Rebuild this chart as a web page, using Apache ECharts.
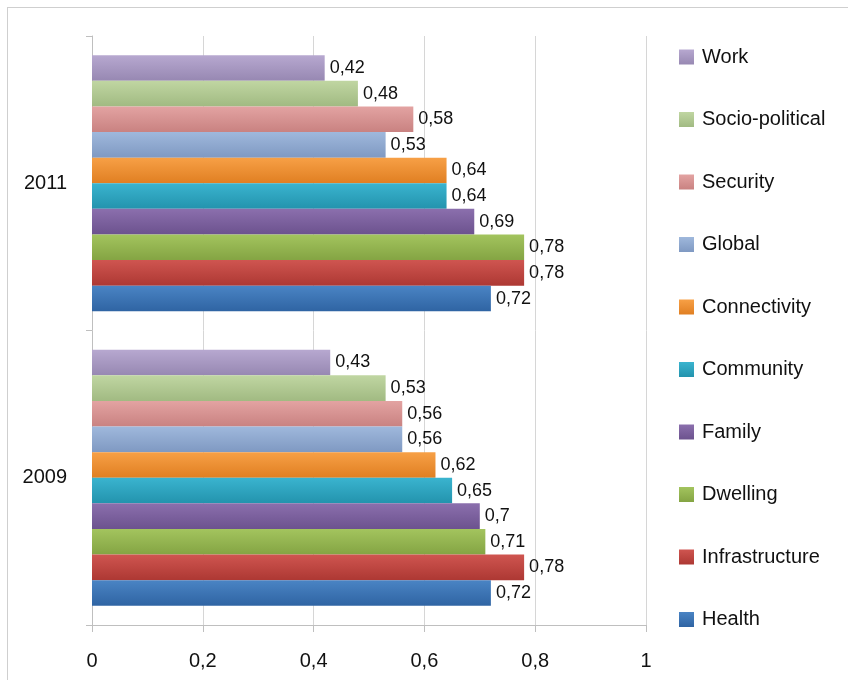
<!DOCTYPE html>
<html>
<head>
<meta charset="utf-8">
<script src="https://cdn.jsdelivr.net/npm/echarts@6/dist/echarts.min.js"></script>
<style>
  html, body { margin: 0; padding: 0; background: #fff; overflow: hidden; }
  #frame { position: absolute; left: 7px; top: 7px; width: 900px; height: 720px; border: 1px solid #cfcfcf; }
  #chart { position: absolute; left: 0; top: 0; width: 848px; height: 680px; }
</style>
</head>
<body>
<div id="frame"></div>
<div id="chart"></div>
<script>
const years = ['2009', '2011'];
const xTicks = [0, 0.2, 0.4, 0.6, 0.8, 1];

// series listed top-to-bottom inside each year group
const seriesNames = ['Work', 'Socio-political', 'Security', 'Global', 'Connectivity',
  'Community', 'Family', 'Dwelling', 'Infrastructure', 'Health'];
const work = [0.43, 0.42];
const socioPolitical = [0.53, 0.48];
const security = [0.56, 0.58];
const global = [0.56, 0.53];
const connectivity = [0.62, 0.64];
const community = [0.65, 0.64];
const family = [0.70, 0.69];
const dwelling = [0.71, 0.78];
const infrastructure = [0.78, 0.78];
const health = [0.72, 0.72];
const values = [work, socioPolitical, security, global, connectivity,
  community, family, dwelling, infrastructure, health];

const colors = [
  ['#b7a8d0', '#9788b2'],
  ['#c0d6a2', '#a1ba82'],
  ['#e3a3a2', '#c98281'],
  ['#9fb8dc', '#7f99c2'],
  ['#f7a046', '#e07f22'],
  ['#3ab4cf', '#2393ad'],
  ['#8b6fad', '#6c528e'],
  ['#a3c45e', '#84a443'],
  ['#cf5550', '#ad3833'],
  ['#4a84c4', '#2f64a3']
];
const legendColors = ['#ae9ec8', '#b1c995', '#d99695', '#8eaad2', '#f0923a',
  '#2aa3c0', '#7e62a1', '#97b954', '#c5463f', '#3a76b8'];

const fmt = v => String(v).replace('.', ',');
const font = 'Liberation Sans, Arial, sans-serif';

const chart = echarts.init(document.getElementById('chart'));
chart.setOption({
  backgroundColor: 'transparent',
  animation: false,
  color: legendColors,
  textStyle: { fontFamily: font },
  grid: { left: 92, right: 202, top: 36, bottom: 55 },
  legend: {
    orient: 'vertical',
    left: 679,
    top: 47,
    padding: 0,
    itemWidth: 15,
    itemHeight: 15,
    itemGap: 42.5,
    icon: 'rect',
    data: seriesNames,
    textStyle: { color: '#111', fontSize: 20, lineHeight: 20, fontFamily: font, padding: [0, 0, 0, 3] }
  },
  xAxis: {
    type: 'value',
    min: 0,
    max: 1,
    interval: 0.2,
    axisLine: { show: true, lineStyle: { color: '#bfbfbf' } },
    axisTick: { show: true, length: 7, lineStyle: { color: '#bfbfbf' } },
    splitLine: { show: true, lineStyle: { color: '#d6d6d6' } },
    axisLabel: { color: '#111', fontSize: 20, margin: 26, formatter: v => fmt(v) }
  },
  yAxis: {
    type: 'category',
    data: years,
    axisLine: { show: true, lineStyle: { color: '#bfbfbf' } },
    axisTick: { show: true, length: 6, lineStyle: { color: '#bfbfbf' } },
    axisLabel: { color: '#111', fontSize: 20, margin: 25, padding: [12, 0, 0, 0] }
  },
  series: seriesNames.map((name, i) => ({
    name,
    type: 'bar',
    data: values[i],
    barGap: '0%',
    barCategoryGap: '13%',
    itemStyle: {
      color: new echarts.graphic.LinearGradient(0, 0, 0, 1, [
        { offset: 0, color: colors[i][0] },
        { offset: 1, color: colors[i][1] }
      ])
    },
    label: {
      show: true,
      position: 'right',
      distance: 5,
      color: '#111',
      fontSize: 18,
      formatter: p => fmt(p.value)
    }
  }))
});
</script>
</body>
</html>
